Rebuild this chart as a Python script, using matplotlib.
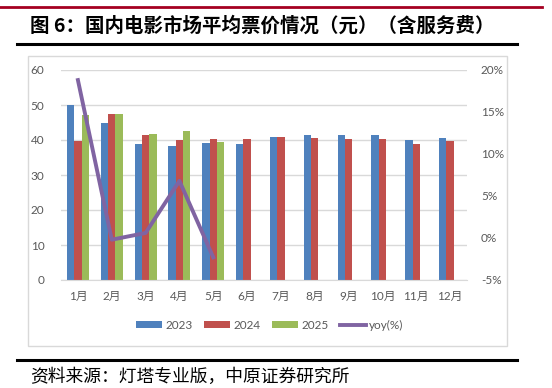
import matplotlib.pyplot as plt
import numpy as np
from matplotlib.patches import Rectangle
from matplotlib.lines import Line2D
from matplotlib.ticker import FuncFormatter

# data
months = ['1月', '2月', '3月', '4月', '5月', '6月', '7月', '8月', '9月', '10月', '11月', '12月']
price_2023 = [50.0, 44.8, 38.8, 38.4, 39.2, 38.9, 40.9, 41.4, 41.4, 41.4, 40.0, 40.6]
price_2024 = [39.7, 47.4, 41.4, 39.9, 40.2, 40.3, 40.9, 40.5, 40.3, 40.2, 38.9, 39.7]
price_2025 = [47.1, 47.4, 41.7, 42.6, 39.5]
yoy_2025 = [18.8, -0.2, 0.6, 6.8, -2.3]

blue = '#4F81BD'
red = '#C0504D'
green = '#9BBB59'
purple = '#8064A2'
grey_txt = '#595959'
grid_c = '#D9D9D9'

W, H = 552, 388
fig = plt.figure(figsize=(W / 100, H / 100), dpi=100)

def fx(px):
    return px / W

def fy(py):
    return 1 - py / H

cjk = ['Noto Sans CJK SC', 'DejaVu Sans']
tick_font = ['Lato', 'Noto Sans CJK SC', 'DejaVu Sans']

# header / footer rules
fig.add_artist(Line2D([fx(0), fx(542)], [fy(7), fy(7)], color='#A50021', lw=2))
fig.add_artist(Line2D([fx(17), fx(517)], [fy(44), fy(44)], color='black', lw=2.2))
fig.add_artist(Line2D([fx(17), fx(517)], [fy(360), fy(360)], color='black', lw=2.2))

fig.text(fx(30), fy(26), '图 6：国内电影市场平均票价情况（元）（含服务费）',
         family=cjk, fontsize=14, fontweight='bold', va='center', ha='left')
fig.text(fx(30), fy(377), '资料来源：灯塔专业版，中原证券研究所',
         family=cjk, fontsize=12.8, va='center', ha='left')

# chart frame
fig.add_artist(Rectangle((fx(28), fy(346)), fx(507) - fx(28), fy(56) - fy(346),
                         transform=fig.transFigure, fill=False, edgecolor=grid_c, lw=1))

ax = fig.add_axes([fx(61), fy(280), fx(467) - fx(61), fy(70) - fy(280)])
x = np.arange(len(months))
bw = 0.216
ax.bar(x - bw, price_2023, bw, color=blue, label='2023', zorder=2)
ax.bar(x, price_2024, bw, color=red, label='2024', zorder=2)
ax.bar(np.arange(len(price_2025)) + bw, price_2025, bw, color=green, label='2025', zorder=2)

ax.set_ylim(0, 60)
ax.set_xlim(-0.5, len(months) - 0.5)
ax.set_yticks(range(0, 61, 10))
ax.yaxis.grid(True, color=grid_c, lw=1, zorder=0)
ax.set_axisbelow(True)
for s in ['top', 'right', 'left']:
    ax.spines[s].set_visible(False)
ax.spines['bottom'].set_color(grid_c)
ax.set_xticks(x)
ax.set_xticklabels(months)
ax.tick_params(axis='both', length=0, colors=grey_txt, labelsize=8.5)
ax.tick_params(axis='x', pad=8)
ax.tick_params(axis='y', pad=12)
for lab in ax.get_xticklabels() + ax.get_yticklabels():
    lab.set_family(tick_font)

ax2 = ax.twinx()
ax2.plot(np.arange(len(yoy_2025)), yoy_2025, color=purple, lw=2.8, label='yoy(%)', zorder=3)
ax2.set_ylim(-5, 20)
ax2.set_yticks(range(-5, 21, 5))
ax2.yaxis.set_major_formatter(FuncFormatter(lambda v, p: f'{v:.0f}%'))
for s in ['top', 'right', 'left', 'bottom']:
    ax2.spines[s].set_visible(False)
ax2.tick_params(axis='y', length=0, colors=grey_txt, labelsize=8.5, pad=10)
for lab in ax2.get_yticklabels():
    lab.set_family(tick_font)

h1, l1 = ax.get_legend_handles_labels()
h2, l2 = ax2.get_legend_handles_labels()
leg = fig.legend(h1 + h2, l1 + l2, loc='center', bbox_to_anchor=(fx(270), fy(325)),
                 ncol=4, frameon=False, handlelength=2.2, handleheight=0.5,
                 columnspacing=1.0, handletextpad=0.25,
                 prop={'family': tick_font, 'size': 8.5})
for t in leg.get_texts():
    t.set_color(grey_txt)

fig.savefig('out.png', dpi=100)
